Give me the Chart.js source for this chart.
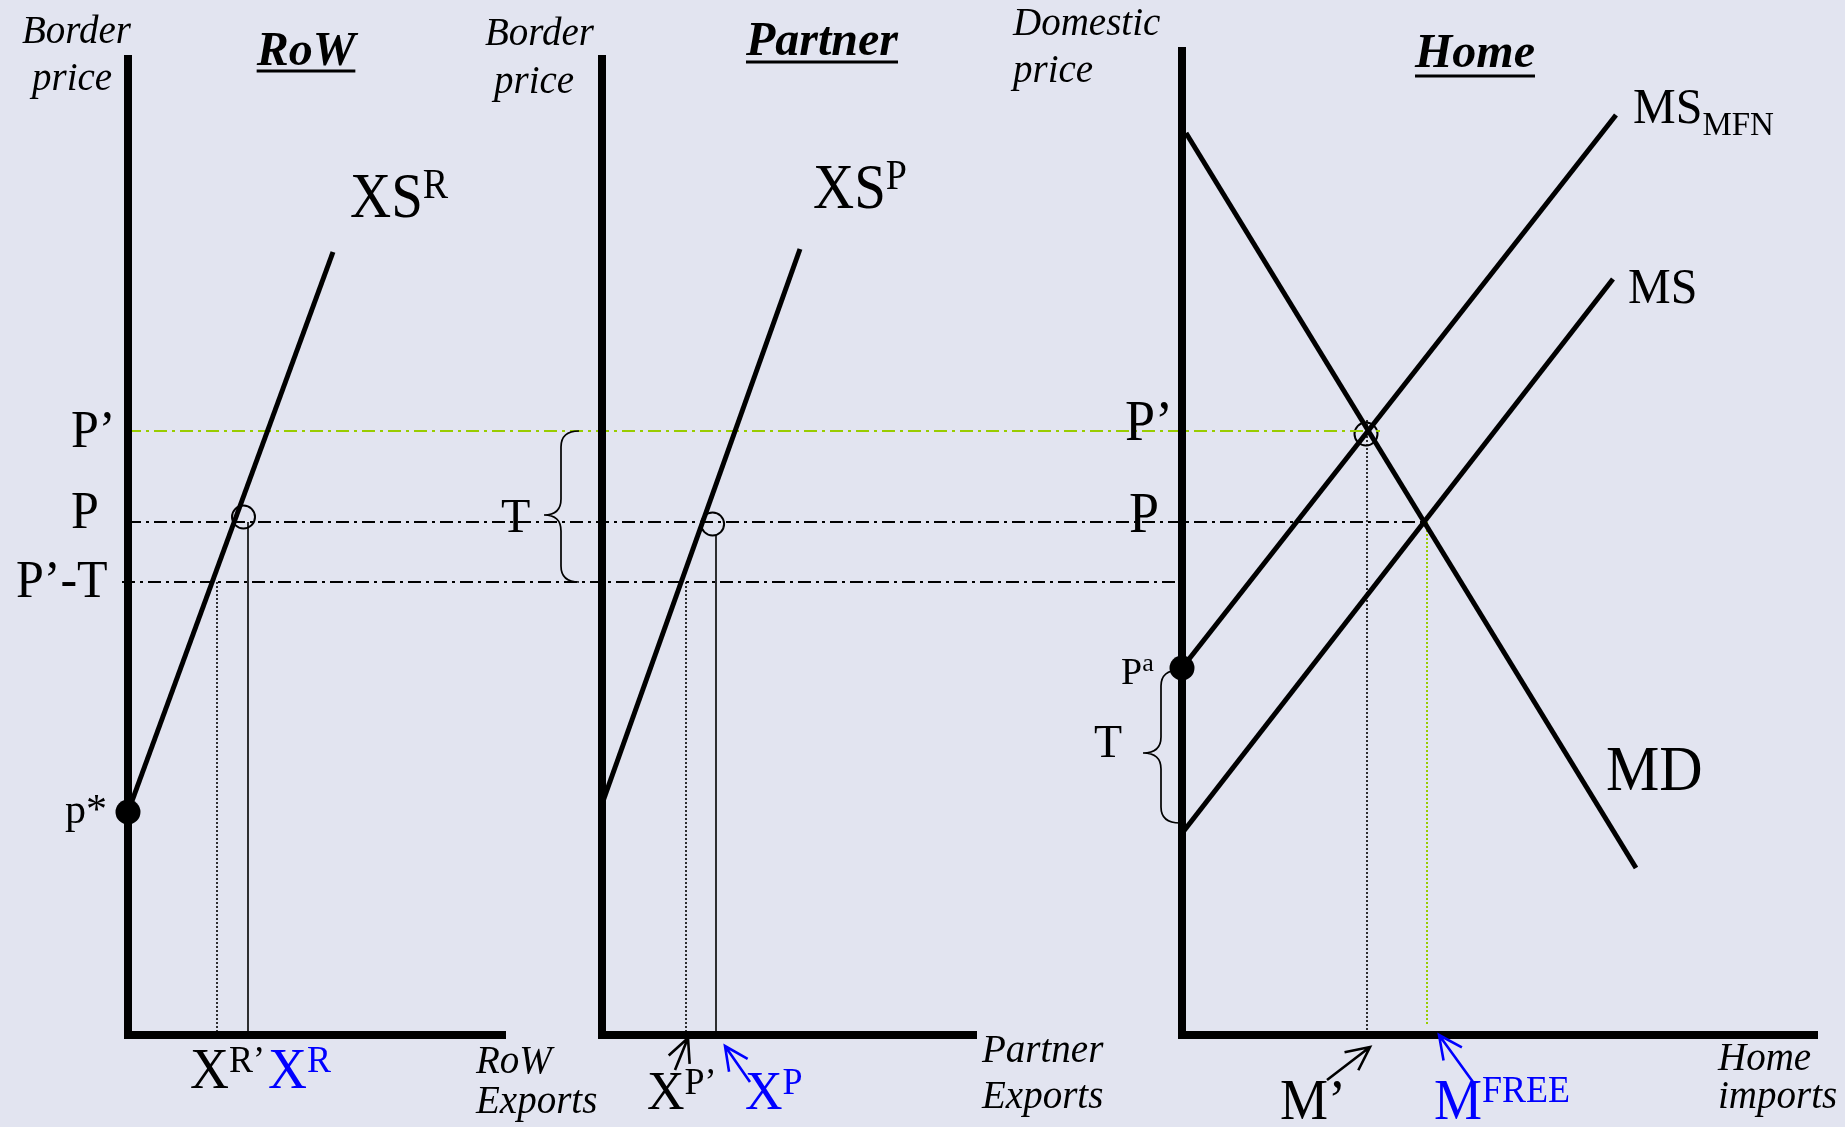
<!DOCTYPE html>
<html>
<head>
<meta charset="utf-8">
<title>RoW / Partner / Home</title>
<script src="https://cdn.jsdelivr.net/npm/chart.js@4.4.1/dist/chart.umd.min.js"></script>
<style>
  html, body { margin: 0; padding: 0; background: #e2e4f0; }
  canvas { display: block; }
</style>
</head>
<body>
<canvas id="trade" width="1845" height="1127"></canvas>
<script>
// values, in diagram units (price up from the quantity axis,
// quantity right from each panel's price axis)
var pricePrime = 6.04;        // P'
var priceFree = 5.13;         // P
var pricePrimeLessT = 4.53;   // P'-T

var axisTop = [9.80, 9.80, 9.88];   // RoW, Partner, Home
var axisEnd = [3.78, 3.75, 6.36];

// RoW
var rowSupplyQ = [0, 2.05];
var rowSupplyP = [2.23, 7.83];
var rowExportsT = 0.89;       // X^R'
var rowExportsF = 1.20;       // X^R
var rowCircle = [1.155, 5.18];

// Partner
var partnerSupplyQ = [0, 1.98];
var partnerSupplyP = [2.31, 7.86];
var partnerExportsT = 0.84;   // X^P'
var partnerExportsF = 1.14;   // X^P
var partnerExportsFTop = 5.00;
var partnerCircle = [1.106, 5.11];

// Home
var mdQ = [0.04, 4.54];
var mdP = [9.02, 1.67];
var msMfnQ = [0, 4.34];
var msMfnP = [3.67, 9.20];
var msQ = [0.01, 4.31];
var msP = [2.03, 7.56];
var importsT = 1.85;          // M'
var importsTTop = 6.15;
var importsF = 2.45;          // M^FREE
var importsFBottom = 0.10;
var homeCircle = [1.84, 6.01];
var guideEnds = [1.98, 2.44, -0.04];   // where P', P, P'-T stop (home units)

// layout
var W = 1845, H = 1127, UNIT = 100;
var originX = [128, 602, 1182];
var originY = 1035;
var axisIds = ['xR', 'xP', 'xH'];

var black = '#000000', green = '#99cc00', blue = '#0000ff';
var dashDot = [13, 5, 3, 5];
var dotted = [2, 2];

function pts(qs, ps) {
  return qs.map(function (q, i) { return { x: q, y: ps[i] }; });
}

function line(axis, data, color, width, dash) {
  return {
    xAxisID: axis, yAxisID: 'y', data: data, showLine: true,
    borderColor: color, borderWidth: width, borderDash: dash || [],
    pointRadius: 0, fill: false, tension: 0,
    borderJoinStyle: 'miter', borderCapStyle: 'butt'
  };
}

function dot(axis, q, p, r, filled, width) {
  return {
    xAxisID: axis, yAxisID: 'y', data: [{ x: q, y: p }], showLine: false,
    pointRadius: r, pointBorderWidth: width,
    pointBorderColor: black,
    pointBackgroundColor: filled ? black : 'rgba(0,0,0,0)'
  };
}

function xScale(i) {
  return { type: 'linear', display: false, min: -originX[i] / UNIT, max: (W - originX[i]) / UNIT };
}

var leftEdge = (originX[0] - originX[2]) / UNIT;

var datasets = [];
// price / quantity axes
for (var i = 0; i < 3; i++) {
  datasets.push(line(axisIds[i], pts([0, 0, axisEnd[i]], [axisTop[i], 0, 0]), black, 8));
}
// supply and demand curves
datasets.push(line('xR', pts(rowSupplyQ, rowSupplyP), black, 5));
datasets.push(line('xP', pts(partnerSupplyQ, partnerSupplyP), black, 5));
datasets.push(line('xH', pts(mdQ, mdP), black, 5));
datasets.push(line('xH', pts(msMfnQ, msMfnP), black, 5));
datasets.push(line('xH', pts(msQ, msP), black, 5));
// price guides across the panels
datasets.push(line('xH', pts([leftEdge, guideEnds[0]], [pricePrime, pricePrime]), green, 2.2, dashDot));
datasets.push(line('xH', pts([leftEdge, guideEnds[1]], [priceFree, priceFree]), black, 2, dashDot));
datasets.push(line('xH', pts([leftEdge - 0.06, guideEnds[2]], [pricePrimeLessT, pricePrimeLessT]), black, 2, dashDot));
// drop lines to the quantity axes
datasets.push(line('xR', pts([rowExportsT, rowExportsT], [pricePrimeLessT, 0]), black, 1.6, dotted));
datasets.push(line('xR', pts([rowExportsF, rowExportsF], [priceFree, 0]), black, 1.6));
datasets.push(line('xP', pts([partnerExportsT, partnerExportsT], [pricePrimeLessT, 0]), black, 1.6, dotted));
datasets.push(line('xP', pts([partnerExportsF, partnerExportsF], [partnerExportsFTop, 0]), black, 1.6));
datasets.push(line('xH', pts([importsT, importsT], [importsTTop, 0]), black, 1.6, dotted));
datasets.push(line('xH', pts([importsF, importsF], [priceFree, importsFBottom]), green, 2, dotted));
// points
datasets.push(dot('xR', 0, rowSupplyP[0], 12.5, true, 0));
datasets.push(dot('xH', 0, msMfnP[0], 12.5, true, 0));
datasets.push(dot('xR', rowCircle[0], rowCircle[1], 11.5, false, 2));
datasets.push(dot('xP', partnerCircle[0], partnerCircle[1], 11.5, false, 2));
datasets.push(dot('xH', homeCircle[0], homeCircle[1], 11.5, false, 2));

// braces for T and arrows below the axes (diagram units)
var braces = [
  { axis: 'xP', spine: -0.41, tip: -0.58, hook: -0.23, top: 6.04, bottom: 4.53, mid: 5.20 },
  { axis: 'xH', spine: -0.21, tip: -0.39, hook: -0.02, top: 3.65, bottom: 2.12, mid: 2.82 }
];
var arrows = [
  { axis: 'xP', from: [0.73, -0.35], to: [0.86, -0.03], color: black },
  { axis: 'xP', from: [1.48, -0.47], to: [1.23, -0.11], color: blue },
  { axis: 'xH', from: [1.45, -0.45], to: [1.88, -0.12], color: black },
  { axis: 'xH', from: [2.91, -0.47], to: [2.57, 0.00], color: blue }
];

var serif = '"Liberation Serif", "Times New Roman", serif';
// text: [x, baseline, style, color, runs [text, size, rise], vertical stretch]
var texts = [
  [22, 43, 'italic', black, [['Border', 39, 0]]],
  [32, 90, 'italic', black, [['price', 39, 0]]],
  [350, 217, '', black, [['XS', 57, 0], ['R', 38, 19]], 1.13],
  [71, 447, '', black, [['P\u2019', 50, 0]], 1.05],
  [71, 528, '', black, [['P', 50, 0]], 1.05],
  [16, 597, '', black, [['P\u2019-T', 50, 0]], 1.05],
  [65, 823, '', black, [['p*', 42, 0]]],
  [190, 1088, '', black, [['X', 54, 0], ['R\u2019', 36, 16]], 1.05],
  [268, 1088, '', blue, [['X', 54, 0], ['R', 36, 16]], 1.05],
  [476, 1073, 'italic', black, [['RoW', 39, 0]]],
  [476, 1113, 'italic', black, [['Exports', 39, 0]]],

  [485, 45, 'italic', black, [['Border', 39, 0]]],
  [494, 93, 'italic', black, [['price', 39, 0]]],
  [813, 208, '', black, [['XS', 57, 0], ['P', 38, 19]], 1.13],
  [501, 532, '', black, [['T', 48, 0]]],
  [647, 1109, '', black, [['X', 52, 0], ['P\u2019', 36, 15]], 1.05],
  [745, 1109, '', blue, [['X', 52, 0], ['P', 36, 15]], 1.05],
  [982, 1062, 'italic', black, [['Partner', 39, 0]]],
  [982, 1108, 'italic', black, [['Exports', 39, 0]]],

  [1013, 35, 'italic', black, [['Domestic', 39, 0]]],
  [1013, 82, 'italic', black, [['price', 39, 0]]],
  [1633, 123, '', black, [['MS', 48, 0], ['MFN', 33, -12]], 1.05],
  [1628, 303, '', black, [['MS', 48, 0]], 1.05],
  [1606, 790, '', black, [['MD', 60, 0]], 1.05],
  [1125, 440, '', black, [['P\u2019', 54, 0]], 1.05],
  [1129, 532, '', black, [['P', 54, 0]], 1.05],
  [1121, 684, '', black, [['P', 38, 0], ['a', 26, 13]]],
  [1094, 757, '', black, [['T', 46, 0]]],
  [1280, 1119, '', black, [['M\u2019', 54, 0]], 1.05],
  [1434, 1119, '', blue, [['M', 54, 0], ['FREE', 36, 17]], 1.05],
  [1718, 1070, 'italic', black, [['Home', 39, 0]]],
  [1718, 1108, 'italic', black, [['imports', 39, 0]]]
];
var titles = [['RoW', 306, 65, 71], ['Partner', 822, 55, 62], ['Home', 1475, 67, 76]];

var decor = {
  id: 'decor',
  beforeDraw: function (chart) {
    var c = chart.ctx;
    c.save();
    c.fillStyle = '#e2e4f0';
    c.fillRect(0, 0, chart.width, chart.height);
    c.restore();
  },
  afterDatasetsDraw: function (chart) {
    var c = chart.ctx, y = chart.scales.y;
    c.save();
    c.lineWidth = 1.7;
    c.strokeStyle = black;
    braces.forEach(function (b) {
      var x = chart.scales[b.axis];
      var sx = x.getPixelForValue(b.spine), tx = x.getPixelForValue(b.tip), hx = x.getPixelForValue(b.hook);
      var yt = y.getPixelForValue(b.top), yb = y.getPixelForValue(b.bottom), ym = y.getPixelForValue(b.mid);
      var r = 16;
      c.beginPath();
      c.moveTo(hx, yt);
      c.quadraticCurveTo(sx, yt, sx, yt + r);
      c.lineTo(sx, ym - r);
      c.quadraticCurveTo(sx, ym, tx, ym);
      c.quadraticCurveTo(sx, ym, sx, ym + r);
      c.lineTo(sx, yb - r);
      c.quadraticCurveTo(sx, yb, hx, yb);
      c.stroke();
    });
    c.lineWidth = 2.6;
    arrows.forEach(function (a) {
      var x = chart.scales[a.axis];
      var x0 = x.getPixelForValue(a.from[0]), y0 = y.getPixelForValue(a.from[1]);
      var x1 = x.getPixelForValue(a.to[0]), y1 = y.getPixelForValue(a.to[1]);
      var ang = Math.atan2(y1 - y0, x1 - x0), hl = 26;
      c.strokeStyle = a.color;
      c.beginPath();
      c.moveTo(x0, y0);
      c.lineTo(x1, y1);
      c.moveTo(x1 - hl * Math.cos(ang - 0.45), y1 - hl * Math.sin(ang - 0.45));
      c.lineTo(x1, y1);
      c.lineTo(x1 - hl * Math.cos(ang + 0.45), y1 - hl * Math.sin(ang + 0.45));
      c.stroke();
    });

    c.textBaseline = 'alphabetic';
    c.textAlign = 'left';
    texts.forEach(function (t) {
      var px = t[0], sy = t[5] || 1;
      c.fillStyle = t[3];
      t[4].forEach(function (run) {
        c.font = (t[2] ? t[2] + ' ' : '') + run[1] + 'px ' + serif;
        c.save();
        c.translate(px, t[1]);
        c.scale(1, sy);
        c.fillText(run[0], 0, -run[2] / sy);
        c.restore();
        px += c.measureText(run[0]).width;
      });
    });
    c.font = 'italic bold 48px ' + serif;
    c.textAlign = 'center';
    c.fillStyle = black;
    titles.forEach(function (t) {
      c.fillText(t[0], t[1], t[2]);
      var w = c.measureText(t[0]).width;
      c.fillRect(t[1] - w / 2, t[3] - 1.5, w, 3);
    });
    c.restore();
  }
};

var scales = { y: { type: 'linear', display: false, min: -(H - originY) / UNIT, max: originY / UNIT } };
for (var k = 0; k < 3; k++) scales[axisIds[k]] = xScale(k);

new Chart(document.getElementById('trade'), {
  type: 'scatter',
  data: { datasets: datasets },
  options: {
    responsive: false,
    animation: false,
    events: [],
    layout: { padding: 0, autoPadding: false },
    plugins: { legend: { display: false }, tooltip: { enabled: false } },
    scales: scales
  },
  plugins: [decor]
});
</script>
</body>
</html>
